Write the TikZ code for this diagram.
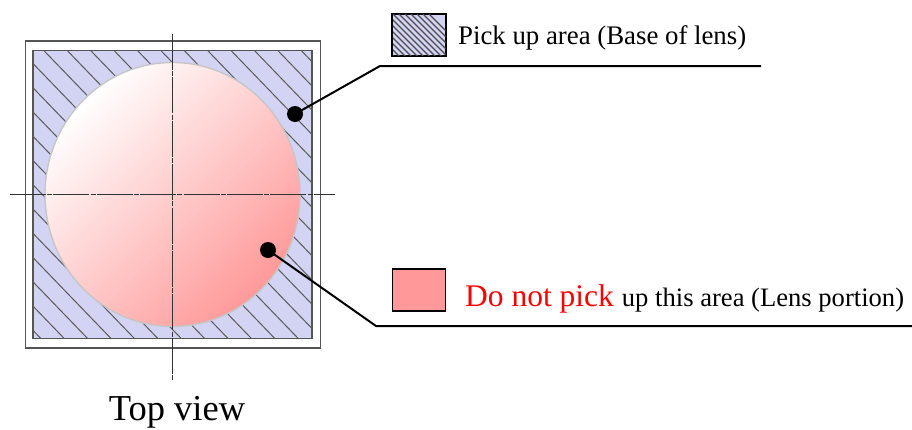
\documentclass[tikz,border=0pt]{standalone}
\usepackage{fontspec}
\setmainfont{Liberation Serif}
\definecolor{basecol}{HTML}{D3D3F3}
\definecolor{lenscol}{HTML}{FF9999}
\definecolor{framecol}{HTML}{555555}
\definecolor{hatchcol}{HTML}{5A5A5A}
\tikzset{
  frameline/.style={draw=framecol,line width=1.2pt},
  centerline/.style={draw=black!80,line width=1pt,dash pattern=on 36pt off 1.2pt on 5pt off 1.2pt},
  hatchline/.style={draw=hatchcol,line width=1pt},
  leader/.style={draw=black,line width=2pt},
  dotmark/.style={circle,fill=black,inner sep=0pt,minimum size=16pt},
  swatch/.style={draw=black,line width=1.4pt,minimum width=53pt,minimum height=42pt,inner sep=0pt},
  label/.style={anchor=base west,inner sep=0pt}
}
\begin{document}
\begin{tikzpicture}[x=1pt,y=-1pt]
\useasboundingbox (0,0) rectangle (912,429);
\node[frameline,draw,minimum width=295pt,minimum height=307pt,inner sep=0pt] (outer) at (172.75,194.5) {};
\node[frameline,draw,fill=basecol,minimum width=279pt,minimum height=288pt,inner sep=0pt] (inner) at (172.5,194.75) {};
% hatching of the base
\begin{scope}
\clip (33,51) rectangle (312,338.5);
\foreach \s in {-14,...,12}{
  \draw[hatchline] ({44.3+23.4*\s},51) -- ++(300,311);
}
\end{scope}
% lens
\shade[left color=white,right color=lenscol,shading angle=45]
  (172.5,194.5) ellipse [x radius=127.5,y radius=132];
\draw[draw=white!55!gray,line width=1.4pt] (172.5,194.5) ellipse [x radius=127.5,y radius=132];
% centre lines
\coordinate (vtop) at (172.5,34);
\coordinate (vbot) at (172.5,381);
\coordinate (hleft) at (10,194.7);
\coordinate (hright) at (335,194.7);
\draw[centerline] (vtop) -- (vbot);
\draw[centerline] (hleft) -- (hright);
% legend 1
\node[swatch,fill=basecol] (sw1) at (419.2,35) {};
\begin{scope}
\clip (393,14) rectangle (445.5,56);
\foreach \s in {-12,...,6}{
  \draw[draw=black!70,line width=1.4pt] ({393+6*\s},14) -- ++(50,50);
}
\end{scope}
\draw[black,line width=1.4pt] (sw1.south west) rectangle (sw1.north east);
\node[label,font=\fontsize{26.8}{30}\selectfont] (t1) at (458,44) {Pick up area (Base of lens)};
% legend 2
\node[swatch,fill=lenscol] (sw2) at (419.2,290) {};
\node[label] (t2) at (465,306) {{\fontsize{31.5}{34}\selectfont\color{red}Do not pick}\hspace{8pt}{\fontsize{26.6}{30}\selectfont up this area (Lens portion)}};
% leaders
\node[dotmark] (d1) at (295,114) {};
\node[dotmark] (d2) at (268,250) {};
\coordinate (k1) at (380,66);
\coordinate (e1) at (761,66);
\coordinate (k2) at (376,326);
\coordinate (e2) at (912,326);
\draw[leader] (d1.center) -- (k1) -- (e1);
\draw[leader] (d2.center) -- (k2) -- (e2);
\node[inner sep=0pt,anchor=base,font=\fontsize{36.5}{40}\selectfont] (t3) at (177,420.5) {Top view};
\end{tikzpicture}
\end{document}
